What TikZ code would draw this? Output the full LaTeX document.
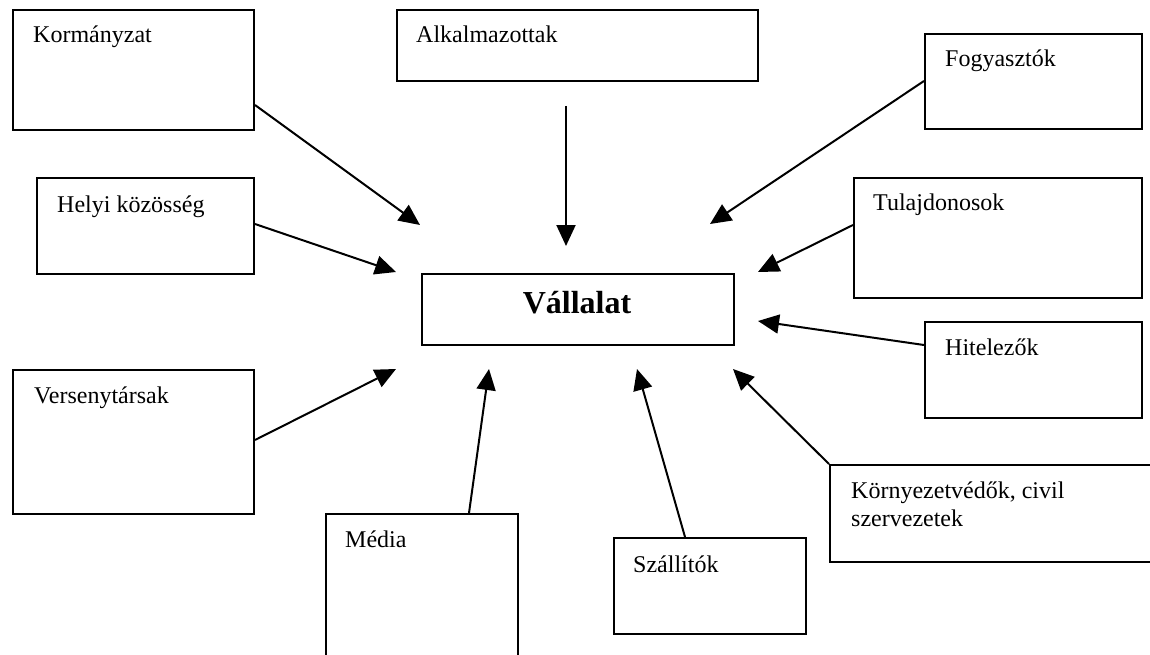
\documentclass[tikz,border=0pt]{standalone}
\usepackage{fontspec}
\setmainfont{Liberation Serif}
\usetikzlibrary{arrows.meta}
\begin{document}
\begin{tikzpicture}[x=1pt,y=-1pt,
  box/.style={draw=black,line width=2pt,fill=white,rectangle,inner sep=0pt,anchor=north west},
  lbl/.style={anchor=base west,inner sep=0pt,font=\fontsize{24}{28}\selectfont},
  conn/.style={draw=black,line width=2pt,-{Triangle[length=21pt,width=19pt]}}]
\clip (0,0) rectangle (1150,655);
\fill[white] (0,0) rectangle (1150,655);
% boxes
\node[box,minimum width=241pt,minimum height=120pt] (k) at (12,9) {};
\node[box,minimum width=361pt,minimum height=71pt] (alk) at (396,9) {};
\node[box,minimum width=217pt,minimum height=95pt] (fog) at (924,33) {};
\node[box,minimum width=217pt,minimum height=96pt] (hely) at (36,177) {};
\node[box,minimum width=288pt,minimum height=120pt] (tul) at (853,177) {};
\node[box,minimum width=312pt,minimum height=71pt] (v) at (421,273) {};
\node[box,minimum width=217pt,minimum height=96pt] (hit) at (924,321) {};
\node[box,minimum width=241pt,minimum height=144pt] (ver) at (12,369) {};
\node[box,minimum width=341pt,minimum height=97pt] (korny) at (829,464) {};
\node[box,minimum width=192pt,minimum height=170pt] (med) at (325,513) {};
\node[box,minimum width=192pt,minimum height=96pt] (sza) at (613,537) {};
% labels
\node[lbl] (kt) at (33,43) {Kormányzat};
\node[lbl] (alkt) at (416,43) {Alkalmazottak};
\node[lbl] (fogt) at (945,67) {Fogyasztók};
\node[lbl] (helyt) at (57,212) {Helyi közösség};
\node[lbl] (tult) at (873,211) {Tulajdonosok};
\node[anchor=base,inner sep=0pt,font=\fontsize{32}{36}\selectfont\bfseries] (vt) at (577,313) {Vállalat};
\node[lbl] (hitt) at (945,355) {Hitelezők};
\node[lbl] (vert) at (34,403) {Versenytársak};
\node[lbl] (kornyt) at (851,498) {\vtop{\hbox{Környezetvédők, civil}\hbox{szervezetek}}};
\node[lbl] (medt) at (345,547) {Média};
\node[lbl] (szat) at (633,572) {Szállítók};
% arrow tips
\coordinate (tk) at (420,225);
\coordinate (talk) at (566,246);
\coordinate (tfog) at (710,224);
\coordinate (thely) at (396,272);
\coordinate (ttul) at (758,272);
\coordinate (thit) at (758,321);
\coordinate (tver) at (396,369);
\coordinate (tmed) at (489,369);
\coordinate (tsza) at (637,369);
\coordinate (tkor) at (733,369);
% connectors
\draw[conn] ([yshift=-96pt]k.north east) -- (tk);
\draw[conn] ([xshift=170pt,yshift=-24pt]alk.south west) -- (talk);
\draw[conn] ([yshift=-48pt]fog.north west) -- (tfog);
\draw[conn] ([yshift=-47pt]hely.north east) -- (thely);
\draw[conn] ([yshift=-48pt]tul.north west) -- (ttul);
\draw[conn] ([yshift=-24pt]hit.north west) -- (thit);
\draw[conn] ([yshift=-71pt]ver.north east) -- (tver);
\draw[conn] ([xshift=144pt]med.north west) -- (tmed);
\draw[conn] ([xshift=72pt]sza.north west) -- (tsza);
\draw[conn] (korny.north west) -- (tkor);
\end{tikzpicture}
\end{document}
